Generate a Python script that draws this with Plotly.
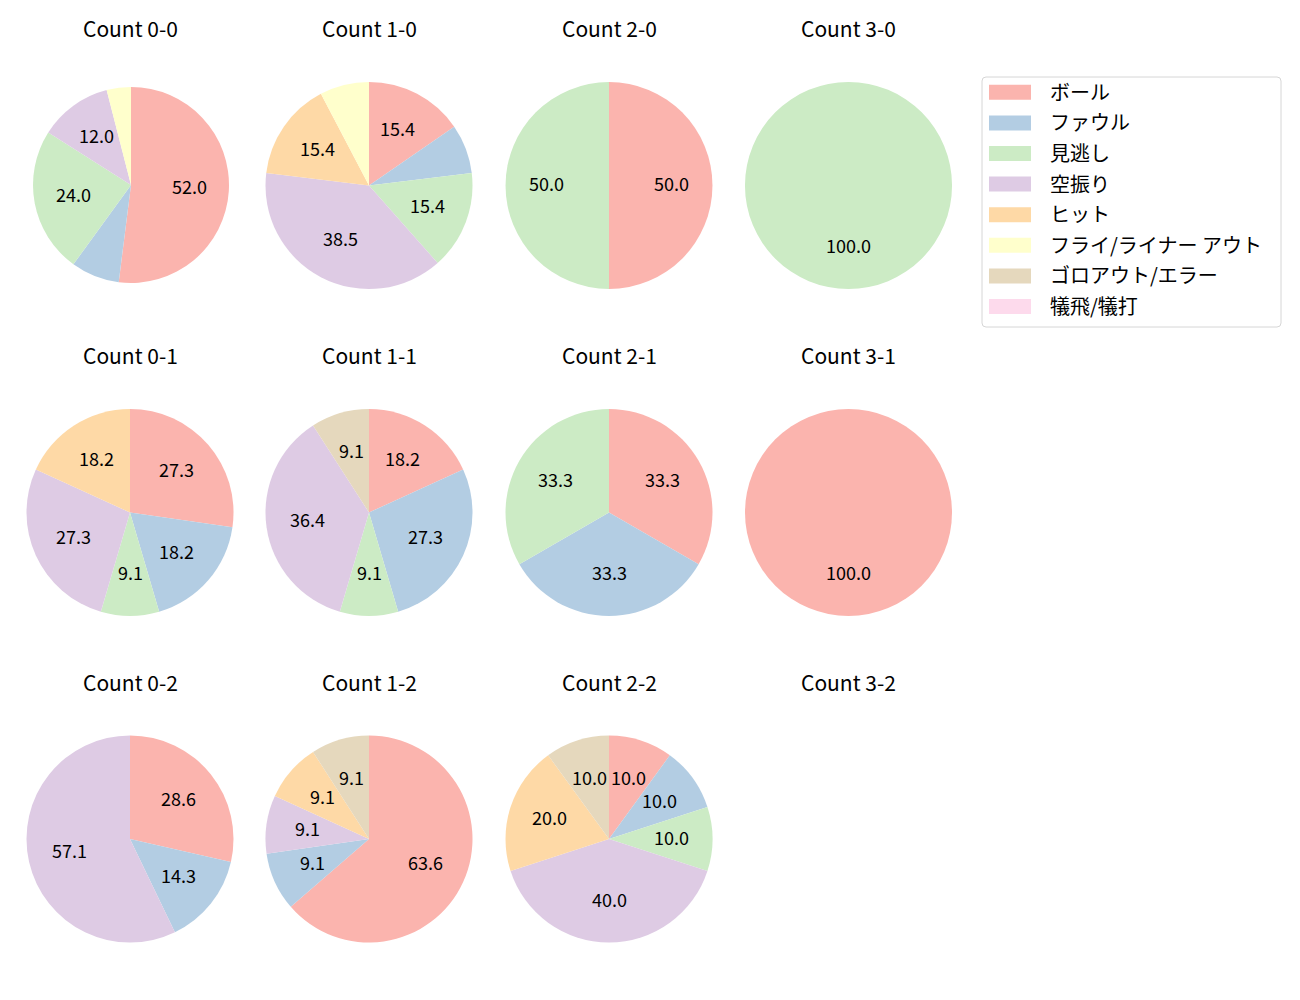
import math
import plotly.graph_objects as go

# ---- data ----
labels = ["ボール", "ファウル", "見逃し", "空振り", "ヒット",
          "フライ/ライナー アウト", "ゴロアウト/エラー", "犠飛/犠打"]
colors = ["#fbb4ae", "#b3cde3", "#ccebc5", "#decbe4", "#fed9a6",
          "#ffffcc", "#e5d8bd", "#fddaec"]

count_titles = [["Count 0-0", "Count 1-0", "Count 2-0", "Count 3-0"],
                ["Count 0-1", "Count 1-1", "Count 2-1", "Count 3-1"],
                ["Count 0-2", "Count 1-2", "Count 2-2", "Count 3-2"]]

c_0_0 = [13, 2, 6, 3, 0, 1, 0, 0]
c_1_0 = [2, 1, 2, 5, 2, 1, 0, 0]
c_2_0 = [1, 0, 1, 0, 0, 0, 0, 0]
c_3_0 = [0, 0, 1, 0, 0, 0, 0, 0]
c_0_1 = [3, 2, 1, 3, 2, 0, 0, 0]
c_1_1 = [2, 3, 1, 4, 0, 0, 1, 0]
c_2_1 = [1, 1, 1, 0, 0, 0, 0, 0]
c_3_1 = [1, 0, 0, 0, 0, 0, 0, 0]
c_0_2 = [2, 1, 0, 4, 0, 0, 0, 0]
c_1_2 = [7, 1, 0, 1, 1, 0, 1, 0]
c_2_2 = [1, 1, 1, 4, 2, 0, 1, 0]
c_3_2 = None

grid_values = [[c_0_0, c_1_0, c_2_0, c_3_0],
               [c_0_1, c_1_1, c_2_1, c_3_1],
               [c_0_2, c_1_2, c_2_2, c_3_2]]

LABEL_MIN_PCT = 9.0

# ---- layout (pixels) ----
W, H = 1300, 1000
col_centers = [130, 369, 609, 848.5]
row_centers = [185.5, 512.5, 839]
R = 103.5
TITLE_OFFSET = 157.5
TEXT_NUDGE = 2.5
FONT = "Noto Sans CJK JP"
LABEL_SIZE = 18
TITLE_SIZE = 21
LEGEND_SIZE = 20

def px(x):
    return x / W

def py(y):
    return 1 - y / H

fig = go.Figure()
annotations = []
shapes = []

for ri, row in enumerate(grid_values):
    for ci, vals in enumerate(row):
        cx, cy, r = col_centers[ci], row_centers[ri], R
        if ri == 0 and ci == 0:
            cx, cy, r = 131, 185, 98
        annotations.append(dict(
            x=px(col_centers[ci]), y=py(row_centers[ri] - TITLE_OFFSET),
            xref="paper", yref="paper", text=count_titles[ri][ci],
            showarrow=False, xanchor="center", yanchor="middle",
            font=dict(family=FONT, size=TITLE_SIZE, color="#000000")))
        if vals is None:
            continue
        fig.add_trace(go.Pie(
            values=vals, labels=labels, marker=dict(colors=colors, line=dict(width=0)),
            sort=False, direction="clockwise", rotation=0, textinfo="none",
            showlegend=False, hoverinfo="label+percent",
            domain=dict(x=[px(cx - r), px(cx + r)], y=[py(cy + r), py(cy - r)])))
        total = sum(vals)
        cum = 0
        for v in vals:
            if v > 0:
                pct = 100 * v / total
                theta = 2 * math.pi * (cum + v / 2) / total
                if pct >= LABEL_MIN_PCT:
                    lx = cx + 0.6 * r * math.sin(theta)
                    ly = cy - 0.6 * r * math.cos(theta) - TEXT_NUDGE
                    annotations.append(dict(
                        x=px(lx), y=py(ly), xref="paper", yref="paper",
                        text=f"{pct:.1f}", showarrow=False,
                        xanchor="center", yanchor="middle",
                        font=dict(family=FONT, size=LABEL_SIZE, color="#000000")))
            cum += v

# ---- legend (drawn) ----
lx0, ly0, lx1, ly1 = 982, 77, 1281, 327
rad = 4
path = (f"M {px(lx0 + rad)},{py(ly0)} L {px(lx1 - rad)},{py(ly0)} "
        f"Q {px(lx1)},{py(ly0)} {px(lx1)},{py(ly0 + rad)} "
        f"L {px(lx1)},{py(ly1 - rad)} Q {px(lx1)},{py(ly1)} {px(lx1 - rad)},{py(ly1)} "
        f"L {px(lx0 + rad)},{py(ly1)} Q {px(lx0)},{py(ly1)} {px(lx0)},{py(ly1 - rad)} "
        f"L {px(lx0)},{py(ly0 + rad)} Q {px(lx0)},{py(ly0)} {px(lx0 + rad)},{py(ly0)} Z")
shapes.append(dict(type="path", xref="paper", yref="paper", path=path,
                   line=dict(color="#d6d6d6", width=1), fillcolor="rgba(255,255,255,0.8)"))
for i, (lab, col) in enumerate(zip(labels, colors)):
    yc = 92.3 + 30.6 * i
    shapes.append(dict(type="rect", xref="paper", yref="paper",
                       x0=px(989), x1=px(1031), y0=py(yc + 7.5), y1=py(yc - 7.5),
                       fillcolor=col, line=dict(width=0)))
    annotations.append(dict(x=px(1048), y=py(yc - 1), xref="paper", yref="paper",
                            text=lab, showarrow=False, xanchor="left", yanchor="middle",
                            font=dict(family=FONT, size=LEGEND_SIZE, color="#000000")))

fig.update_layout(
    width=W, height=H, autosize=False,
    margin=dict(l=0, r=0, t=0, b=0),
    paper_bgcolor="white", plot_bgcolor="white",
    annotations=annotations, shapes=shapes,
    font=dict(family=FONT),
)

fig.write_html("out.html", config={"displayModeBar": False},
               post_script="document.body.style.margin='0';")
